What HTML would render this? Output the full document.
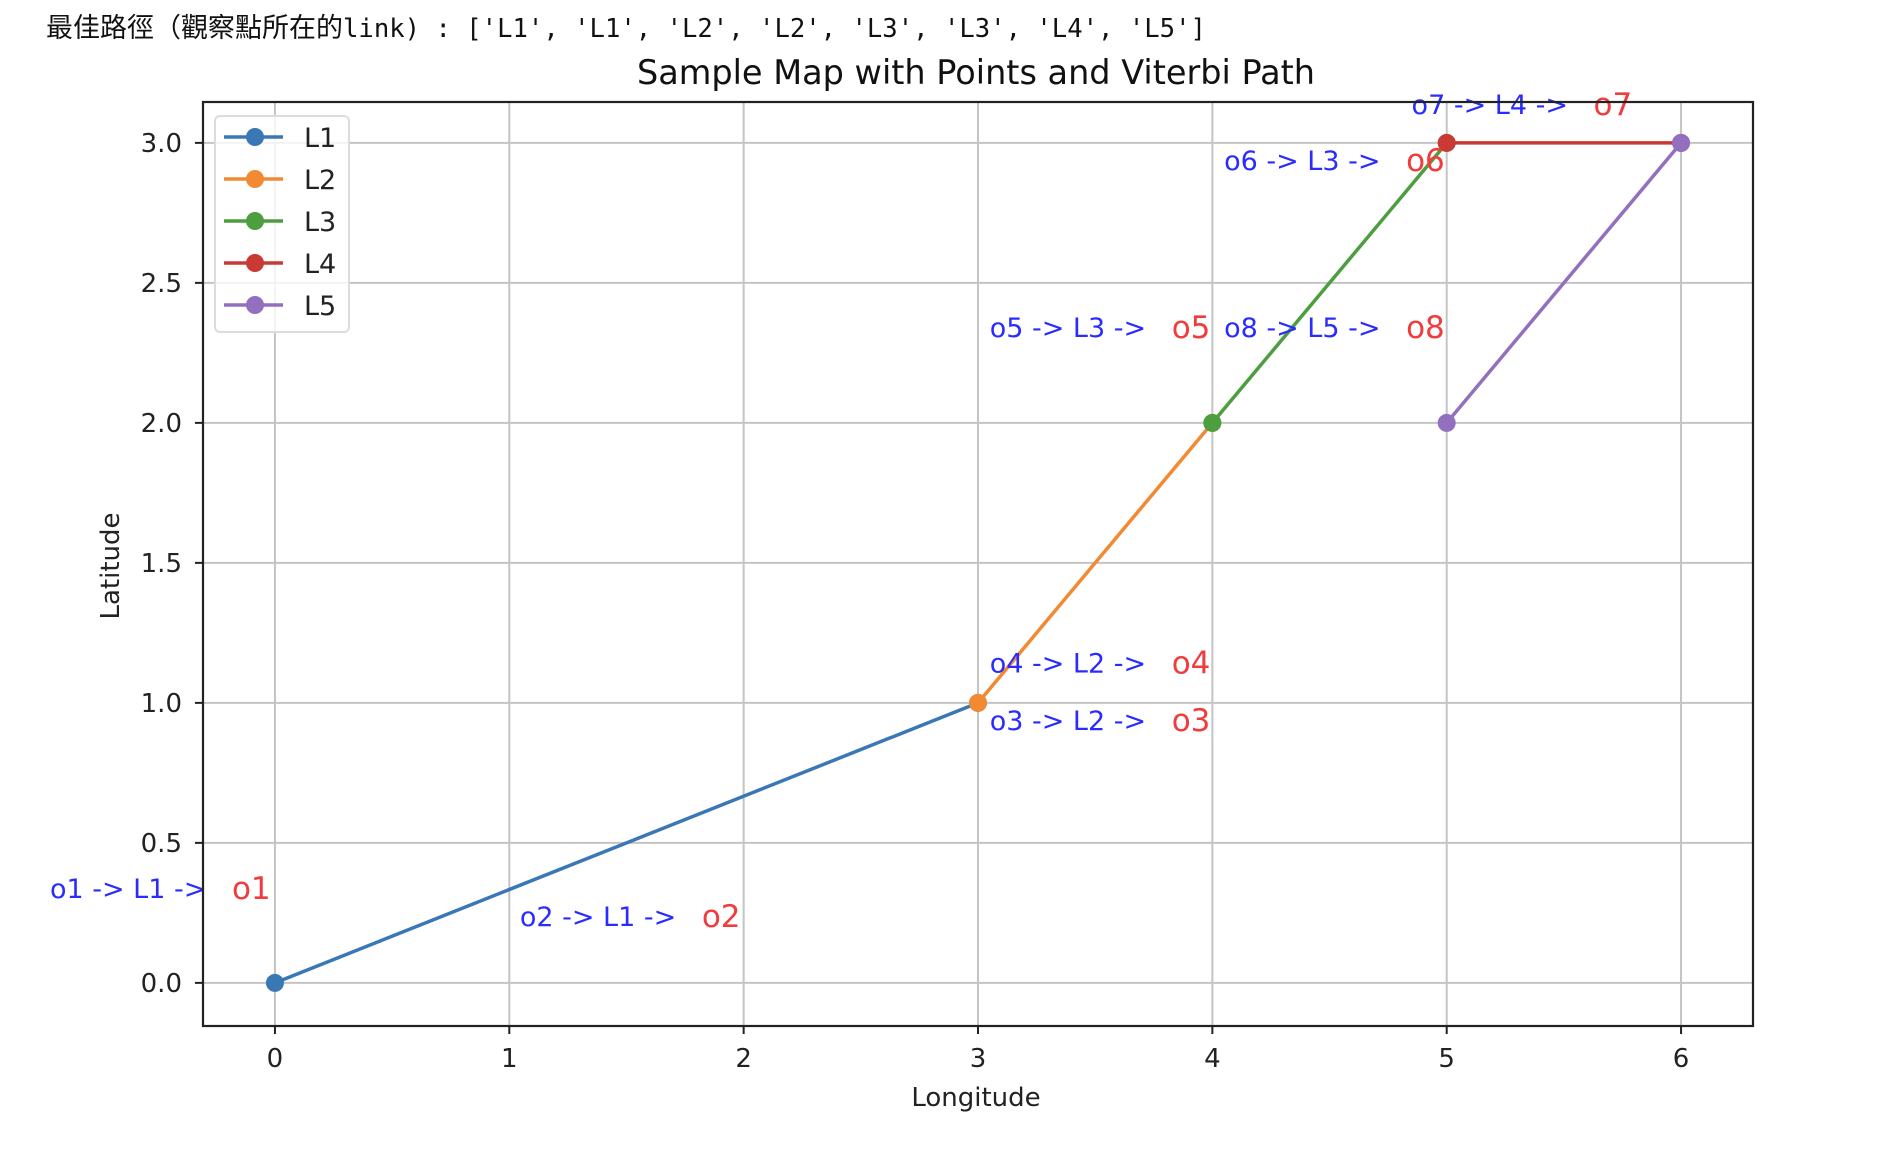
<!DOCTYPE html>
<html><head><meta charset="utf-8"><style>
html,body{margin:0;padding:0;background:#fff;width:1896px;height:1156px;overflow:hidden}
#hdr{position:absolute;left:46px;top:6px;font-size:25.6px;white-space:nowrap;color:#111;font-family:"DejaVu Sans Mono","Liberation Mono",monospace}
#hdr .cjk{font-family:"Noto Sans CJK TC","Noto Sans CJK SC",sans-serif;font-size:27px}
svg{position:absolute;left:0;top:0}
text{font-family:"DejaVu Sans","Liberation Sans",sans-serif}
</style></head><body>
<div id="hdr"><span class="cjk">最佳路徑（觀察點所在的</span>link) : ['L1', 'L1', 'L2', 'L2', 'L3', 'L3', 'L4', 'L5']</div>
<svg id="chart" width="1896" height="1156"></svg>
<script>
const seriesNames = ['L1','L2','L3','L4','L5'];
const seriesColors = ['#3a78b5','#f28a34','#4c9e3f','#c93a35','#9270bf'];
const seriesLon = [[0,3],[3,4],[4,5],[5,6],[5,6]];
const seriesLat = [[0,1],[1,2],[2,3],[3,3],[2,3]];
const xTicks = [0,1,2,3,4,5,6];
const yTicks = [0,0.5,1,1.5,2,2.5,3];
const yTickLabels = ['0.0','0.5','1.0','1.5','2.0','2.5','3.0'];
const annoObs = ['o1','o2','o3','o4','o5','o6','o7','o8'];
const annoLink = ['L1','L1','L2','L2','L3','L3','L4','L5'];
const annoLon = [-0.96,1.045,3.05,3.05,3.05,4.05,4.85,4.05];
const annoLat = [0.336,0.236,0.936,1.14,2.339,2.936,3.136,2.339];

const L=203,R=1753,T=102,B=1026;
const xMin=-0.307,xMax=6.307,yMin=-0.154,yMax=3.146;
const sx=v=>L+(v-xMin)/(xMax-xMin)*(R-L);
const sy=v=>B-(v-yMin)/(yMax-yMin)*(B-T);
const NS='http://www.w3.org/2000/svg';
const svg=document.getElementById('chart');
function mk(tag,attrs,parent){const e=document.createElementNS(NS,tag);for(const k in attrs)e.setAttribute(k,attrs[k]);(parent||svg).appendChild(e);return e;}

mk('text',{x:976,y:84,'text-anchor':'middle','font-size':'33.5',fill:'#111'}).textContent='Sample Map with Points and Viterbi Path';



xTicks.forEach(t=>{
  const g=mk('line',{x1:sx(t),x2:sx(t),y1:T,y2:B,stroke:'#c4c4c4','stroke-width':2});
  
  
  const tk=mk('line',{x1:sx(t),x2:sx(t),y1:B,y2:B+8,stroke:'#222','stroke-width':2});
  
  
  const lb=mk('text',{x:sx(t),y:1067,'text-anchor':'middle','font-size':'26',fill:'#222'});
  lb.textContent=String(t);
  
  
});
yTicks.forEach((t,i)=>{
  const g=mk('line',{x1:L,x2:R,y1:sy(t),y2:sy(t),stroke:'#c4c4c4','stroke-width':2});
  
  
  const tk=mk('line',{x1:L-8,x2:L,y1:sy(t),y2:sy(t),stroke:'#222','stroke-width':2});
  
  
  const lb=mk('text',{x:182,y:sy(t)+9,'text-anchor':'end','font-size':'26',fill:'#222'});
  lb.textContent=yTickLabels[i];
  
  
});

seriesNames.forEach((n,i)=>{
  const g=mk('g',{});
  
  
  const pts=seriesLon[i].map((x,j)=>sx(x)+','+sy(seriesLat[i][j])).join(' ');
  mk('polyline',{points:pts,fill:'none',stroke:seriesColors[i],'stroke-width':3.5},g);
  seriesLon[i].forEach((x,j)=>{
    const c=mk('circle',{cx:sx(x),cy:sy(seriesLat[i][j]),r:9,fill:seriesColors[i]},g);
    
    
  });
});

annoObs.forEach((o,i)=>{
  const x=sx(annoLon[i]), y=sy(annoLat[i]);
  const b=mk('text',{x:x,y:y+9,'font-size':'27',fill:'#2a2cff'});
  b.textContent=o+' -> '+annoLink[i]+' ->';
  
  
  const r=mk('text',{x:x+182,y:y+10,'font-size':'31',fill:'#f03c3c'});
  r.textContent=o;
  
  
});

const sp=mk('rect',{x:L,y:T,width:R-L,height:B-T,fill:'none',stroke:'#222','stroke-width':2.2});



const lg=mk('g',{});


mk('rect',{x:215,y:116,width:134,height:216,rx:5,fill:'rgba(255,255,255,0.8)',stroke:'#dcdcdc','stroke-width':2},lg);
seriesNames.forEach((n,i)=>{
  const y=137+i*42;
  const e=mk('g',{},lg);
  
  
  mk('line',{x1:224,x2:283,y1:y,y2:y,stroke:seriesColors[i],'stroke-width':3.5},e);
  mk('circle',{cx:255,cy:y,r:9,fill:seriesColors[i]},e);
  const t=mk('text',{x:304,y:y+10,'font-size':'27',fill:'#222'},e);
  t.textContent=n;
});

const xl=mk('text',{x:976,y:1106,'text-anchor':'middle','font-size':'26',fill:'#222'});
xl.textContent='Longitude';


const yl=mk('text',{x:0,y:0,'text-anchor':'middle','font-size':'26',fill:'#222',transform:'translate(119,566) rotate(-90)'});
yl.textContent='Latitude';


</script>
</body></html>
